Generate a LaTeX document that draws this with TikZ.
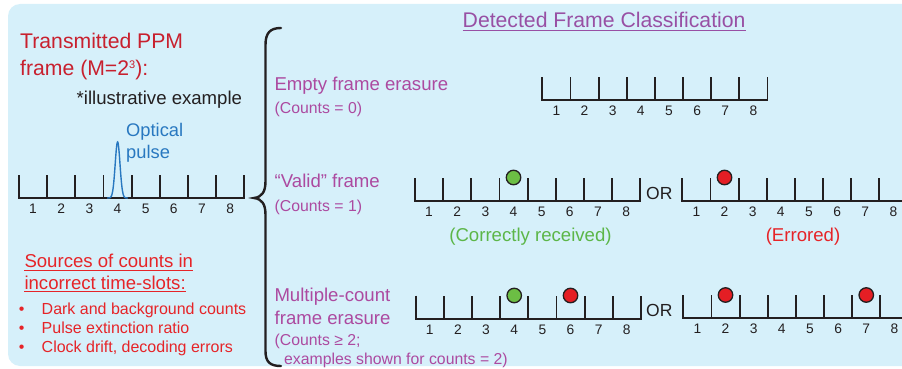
\documentclass[tikz,border=0pt]{standalone}
\usepackage{fontspec}
\setmainfont{Liberation Sans}
\definecolor{bgblue}{RGB}{214,240,250}
\definecolor{ink}{RGB}{35,31,32}
\definecolor{titlered}{RGB}{200,32,46}
\definecolor{srcred}{RGB}{230,36,40}
\definecolor{headpurple}{RGB}{152,80,164}
\definecolor{lblpurple}{RGB}{172,74,160}
\definecolor{pulseblue}{RGB}{40,120,192}
\definecolor{okgreen}{RGB}{92,182,72}
\definecolor{dotgreen}{RGB}{108,190,68}
\definecolor{dotred}{RGB}{228,30,36}
\def\slotw{28.15}
\def\tickh{23}
\tikzset{
  frameline/.style={draw=ink, line width=1.8pt},
  numlabel/.style={anchor=base, inner sep=0pt, text=ink, font=\fontsize{13.8}{16}\selectfont},
  lbl/.style={anchor=base west, inner sep=0pt},
  bigfont/.style={font=\fontsize{18.6}{22}\selectfont},
  smallfont/.style={font=\fontsize{15.8}{18}\selectfont},
  hitgood/.style={circle, draw=ink, line width=1.3pt, fill=dotgreen, minimum size=14.5pt, inner sep=0pt},
  hitbad/.style={circle, draw=ink, line width=1.3pt, fill=dotred, minimum size=14.5pt, inner sep=0pt},
  bracestroke/.style={draw=ink, line width=2.4pt, line cap=round},
}
% one PPM frame: name, left x, baseline y
\newcommand{\ppmframe}[3]{%
  \coordinate (#1-0) at (#2,#3);
  \draw[frameline] (#2,#3-\tickh) -- (#2,#3) -- (#2+8*\slotw,#3) -- (#2+8*\slotw,#3-\tickh);
  \foreach \k in {1,...,7}{\draw[frameline] (#2+\k*\slotw,#3) -- (#2+\k*\slotw,#3-\tickh);}
  \foreach \k in {1,...,8}{\node[numlabel] (#1-\k) at (#2+\k*\slotw-0.5*\slotw,#3+15.5) {\k};}
}
\begin{document}
\begin{tikzpicture}[x=1pt,y=-1pt]
\clip (0,0) rectangle (902,369);
\fill[bgblue, rounded corners=12pt] (8,4) rectangle (930,366);

% transmitted frame
\node[lbl, text=titlered, font=\fontsize{21.2}{25}\selectfont] (tx1) at (20,48.3) {Transmitted PPM};
\node[lbl, text=titlered, font=\fontsize{21.2}{25}\selectfont] (tx2) at (20,75) {frame (M=2{\fontsize{11}{11}\selectfont\raisebox{7pt}{3}}):};
\node[lbl, text=ink, font=\fontsize{18.6}{22}\selectfont] (illus) at (76.5,104) {*illustrative example};
\node[lbl, text=pulseblue, font=\fontsize{18.3}{22}\selectfont] (op1) at (126,136.7) {Optical};
\node[lbl, text=pulseblue, font=\fontsize{18.3}{22}\selectfont] (op2) at (126,158.3) {pulse};
\ppmframe{tx}{19}{198}
\draw[pulseblue, line width=1.4pt] plot[domain=107:128, samples=60, smooth] (\x,{198-56*exp(-((\x-117.6)/3.4)^2)});

% sources of errors
\node[lbl, text=srcred, bigfont] (src1) at (24.3,267.7) {Sources of counts in};
\node[lbl, text=srcred, bigfont] (src2) at (24.3,289.3) {incorrect time-slots:};
\draw[srcred, line width=0.9pt] ([yshift=-2.4pt]src1.base west) -- ([yshift=-2.4pt]src1.base east);
\draw[srcred, line width=0.9pt] ([yshift=-2.4pt]src2.base west) -- ([yshift=-2.4pt]src2.base east);
\foreach \yy/\txt [count=\i] in {314.8/Dark and background counts, 333.5/Pulse extinction ratio, 352.3/{Clock drift, decoding errors}}{
  \node[anchor=base, inner sep=0pt, text=srcred, font=\fontsize{16}{19}\selectfont] (bul\i) at (21.7,\yy) {•};
  \node[lbl, text=srcred, font=\fontsize{16}{19}\selectfont] (item\i) at (41.5,\yy) {\txt};
}

% brace
\draw[bracestroke] (281,28) .. controls (270,28) and (265.5,33) .. (265.5,45) -- (265.5,181)
  .. controls (265.5,192) and (262,197) .. (254,198)
  .. controls (262,199) and (265.5,204) .. (265.5,215) -- (265.5,351)
  .. controls (265.5,362) and (270,366) .. (281,366);

% heading
\node[lbl, text=headpurple, font=\fontsize{21.2}{25}\selectfont] (head) at (462.5,27.3) {Detected Frame Classification};
\draw[headpurple, line width=0.9pt] ([yshift=-2.7pt]head.base west) -- ([yshift=-2.7pt]head.base east);

% empty frame
\node[lbl, text=lblpurple, bigfont] (emp1) at (274.3,90.7) {Empty frame erasure};
\node[lbl, text=lblpurple, smallfont] (emp2) at (274.5,113.3) {(Counts = 0)};
\ppmframe{ef}{542.3}{100}

% valid frame
\node[lbl, text=lblpurple, bigfont] (val1) at (274.5,187.3) {“Valid” frame};
\node[lbl, text=lblpurple, smallfont] (val2) at (274.5,211) {(Counts = 1)};
\ppmframe{va}{415}{201}
\ppmframe{vb}{682.3}{201}
\node[hitgood] (va-hit) at (415+3.5*\slotw,177.5) {};
\node[hitbad] (vb-hit) at (682.3+1.5*\slotw,177.5) {};
\node[lbl, text=ink, font=\fontsize{17.5}{21}\selectfont] (vor) at (646,199.3) {OR};
\node[anchor=base, inner sep=0pt, text=okgreen, bigfont] (vok) at (530.5,241.7) {(Correctly received)};
\node[anchor=base, inner sep=0pt, text=srcred, bigfont] (verr) at (803,241.7) {(Errored)};

% multiple-count frame
\node[lbl, text=lblpurple, bigfont] (mul1) at (274.3,301.7) {Multiple-count};
\node[lbl, text=lblpurple, bigfont] (mul2) at (274.5,324) {frame erasure};
\node[lbl, text=lblpurple, smallfont] (mul3) at (274.5,345) {(Counts ≥ 2;};
\node[lbl, text=lblpurple, smallfont] (mul4) at (284,364) {examples shown for counts = 2)};
\ppmframe{ma}{415.7}{318.7}
\ppmframe{mb}{683.3}{318.2}
\node[hitgood] (ma-hit1) at (415.7+3.5*\slotw,295.5) {};
\node[hitbad] (ma-hit2) at (415.7+5.5*\slotw,295.5) {};
\node[hitbad] (mb-hit1) at (683.3+1.5*\slotw,295) {};
\node[hitbad] (mb-hit2) at (683.3+6.5*\slotw,295) {};
\node[lbl, text=ink, font=\fontsize{17.5}{21}\selectfont] (mor) at (646,316.7) {OR};
\end{tikzpicture}
\end{document}
